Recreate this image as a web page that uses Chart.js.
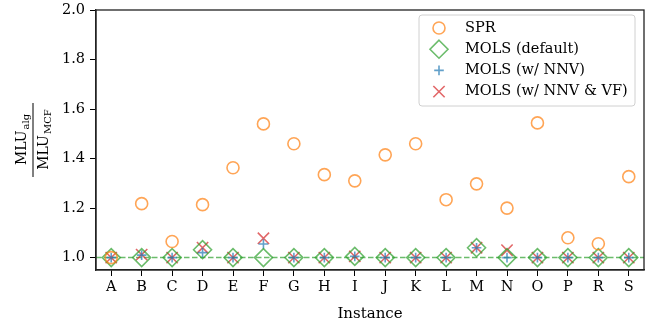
<!DOCTYPE html>
<html>
<head>
<meta charset="utf-8">
<script src="https://cdn.jsdelivr.net/npm/chart.js@4.4.0/dist/chart.umd.min.js"></script>
<style>
  html, body { margin: 0; padding: 0; background: #fff; }
</style>
</head>
<body>
<canvas id="chart" width="650" height="325"></canvas>
<script>
const instances = ['A', 'B', 'C', 'D', 'E', 'F', 'G', 'H', 'I', 'J', 'K', 'L', 'M', 'N', 'O', 'P', 'R', 'S'];
const sprValues = [1.0, 1.218, 1.065, 1.214, 1.363, 1.54, 1.46, 1.335, 1.31, 1.415, 1.46, 1.234, 1.298, 1.2, 1.544, 1.08, 1.056, 1.327];
const molsDefault = [1.0, 1.0, 1.0, 1.032, 1.0, 1.0, 1.0, 1.0, 1.005, 1.0, 1.0, 1.0, 1.04, 1.0, 1.0, 1.0, 1.0, 1.0];
const molsNnv = [1.0, 1.01, 1.0, 1.02, 1.0, 1.055, 1.0, 1.0, 1.005, 1.0, 1.0, 1.0, 1.04, 1.0, 1.0, 1.0, 1.0, 1.0];
const molsNnvVf = [1.0, 1.012, 1.0, 1.04, 1.0, 1.078, 1.0, 1.0, 1.005, 1.0, 1.0, 1.0, 1.04, 1.03, 1.0, 1.0, 1.0, 1.0];
const yTicks = [1.0, 1.2, 1.4, 1.6, 1.8, 2.0];

const FONT = 'DejaVu Serif';
const orange = 'rgba(255, 127, 14, 0.7)';
const green = 'rgba(44, 160, 44, 0.7)';
const blue = 'rgba(31, 119, 180, 0.7)';
const red = 'rgba(214, 39, 40, 0.7)';

// marker sizes (radius in px)
const R_CIRCLE = 6, R_DIAMOND = 9, R_PLUS = 4.8, R_X = 8;

// small marker painter, only used for the legend
function drawMarker(ctx, style, x, y, r, color) {
	ctx.save();
	ctx.strokeStyle = color;
	ctx.lineWidth = 1.6;
	ctx.beginPath();
	if (style === 'circle') {
		ctx.arc(x, y, r, 0, Math.PI * 2);
	} else if (style === 'rectRot') {
		ctx.moveTo(x, y - r); ctx.lineTo(x + r, y); ctx.lineTo(x, y + r); ctx.lineTo(x - r, y); ctx.closePath();
	} else if (style === 'cross') {
		ctx.moveTo(x - r, y); ctx.lineTo(x + r, y); ctx.moveTo(x, y - r); ctx.lineTo(x, y + r);
	} else {
		const d = r * Math.SQRT1_2;
		ctx.moveTo(x - d, y - d); ctx.lineTo(x + d, y + d); ctx.moveTo(x - d, y + d); ctx.lineTo(x + d, y - d);
	}
	ctx.stroke();
	ctx.restore();
}

const legendItems = [
	{ text: 'SPR', style: 'circle', r: R_CIRCLE, color: orange },
	{ text: 'MOLS (default)', style: 'rectRot', r: R_DIAMOND, color: green },
	{ text: 'MOLS (w/ NNV)', style: 'cross', r: R_PLUS, color: blue },
	{ text: 'MOLS (w/ NNV & VF)', style: 'crossRot', r: R_X, color: red },
];

const extras = {
	id: 'extras',
	beforeDatasetsDraw(chart) {
		// dashed reference line at 1.0
		const { ctx, chartArea } = chart;
		const y = chart.scales.y.getPixelForValue(1.0);
		ctx.save();
		ctx.strokeStyle = green;
		ctx.lineWidth = 1.5;
		ctx.setLineDash([5.5, 2.5]);
		ctx.beginPath();
		ctx.moveTo(chartArea.left, y);
		ctx.lineTo(chartArea.right, y);
		ctx.stroke();
		ctx.restore();
	},
	afterDraw(chart) {
		const { ctx, chartArea } = chart;
		ctx.save();
		// frame
		ctx.strokeStyle = '#222';
		ctx.lineWidth = 1.3;
		ctx.strokeRect(chartArea.left, chartArea.top, chartArea.right - chartArea.left, chartArea.bottom - chartArea.top);

		// legend
		const bx = chartArea.right - 225, by = chartArea.top + 5, bw = 216, bh = 91;
		ctx.fillStyle = 'rgba(255,255,255,0.8)';
		ctx.strokeStyle = '#d0d0d0';
		ctx.lineWidth = 1;
		ctx.beginPath();
		ctx.roundRect(bx, by, bw, bh, 3);
		ctx.fill();
		ctx.stroke();
		ctx.font = '14.5px "' + FONT + '"';
		ctx.fillStyle = '#000';
		ctx.textBaseline = 'middle';
		legendItems.forEach((it, i) => {
			const ly = by + 13 + i * 21.2;
			drawMarker(ctx, it.style, bx + 20, ly, it.r, it.color);
			ctx.fillText(it.text, bx + 46, ly);
		});

		// y label: MLU_alg / MLU_MCF
		ctx.translate(33, chartArea.top + (chartArea.bottom - chartArea.top) / 2);
		ctx.rotate(-Math.PI / 2);
		const part = (main, sub, base) => {
			ctx.font = '14px "' + FONT + '"';
			const w1 = ctx.measureText(main).width;
			ctx.font = '10px "' + FONT + '"';
			const w2 = ctx.measureText(sub).width;
			const start = -(w1 + w2) / 2;
			ctx.textBaseline = 'alphabetic';
			ctx.font = '14px "' + FONT + '"';
			ctx.fillText(main, start, base);
			ctx.font = '10px "' + FONT + '"';
			ctx.fillText(sub, start + w1 + 1, base + 3);
		};
		part('MLU', 'alg', -7);
		part('MLU', 'MCF', 15);
		ctx.strokeStyle = '#000';
		ctx.lineWidth = 1;
		ctx.beginPath();
		ctx.moveTo(-37, 0);
		ctx.lineTo(37, 0);
		ctx.stroke();
		ctx.restore();
	},
};

const tickFont = { family: FONT, size: 14.5 };

new Chart(document.getElementById('chart'), {
	type: 'line',
	data: {
		labels: instances,
		datasets: [
			{ label: 'SPR', data: sprValues, pointStyle: 'circle', pointRadius: R_CIRCLE, borderColor: orange },
			{ label: 'MOLS (default)', data: molsDefault, pointStyle: 'rectRot', pointRadius: R_DIAMOND, borderColor: green },
			{ label: 'MOLS (w/ NNV)', data: molsNnv, pointStyle: 'cross', pointRadius: R_PLUS, borderColor: blue },
			{ label: 'MOLS (w/ NNV & VF)', data: molsNnvVf, pointStyle: 'crossRot', pointRadius: R_X, borderColor: red },
		].map((d) => Object.assign(d, { showLine: false, backgroundColor: 'rgba(0,0,0,0)', pointBorderWidth: 1.6 })),
	},
	options: {
		responsive: false,
		animation: false,
		devicePixelRatio: 1,
		layout: { autoPadding: false, padding: { top: 10, right: 6, left: 0, bottom: 0 } },
		plugins: { legend: { display: false }, tooltip: { enabled: false } },
		scales: {
			x: {
				offset: true,
				grid: { drawOnChartArea: false, drawTicks: true, tickLength: 6, tickColor: '#000', tickWidth: 1 },
				border: { display: true, color: '#222', width: 1.3 },
				ticks: { color: '#000', font: tickFont, padding: 3, maxRotation: 0, autoSkip: false },
				title: { display: true, text: 'Instance', color: '#000', font: { family: FONT, size: 15 }, padding: { top: 0, bottom: 2 } },
				afterFit(scale) {
					scale.height = 55;
					scale.paddingLeft = 0;
					scale.paddingRight = 0;
				},
			},
			y: {
				min: 0.95,
				max: 2.0,
				afterBuildTicks(scale) { scale.ticks = yTicks.map((v) => ({ value: v })); },
				grid: { drawOnChartArea: false, drawTicks: true, tickLength: 6, tickColor: '#000', tickWidth: 1 },
				border: { display: true, color: '#222', width: 1.3 },
				ticks: { color: '#000', font: tickFont, padding: 5, callback: (v) => Number(v).toFixed(1) },
				afterFit(scale) {
					scale.width = 96;
					scale.paddingTop = 0;
					scale.paddingBottom = 0;
				},
			},
		},
	},
	plugins: [extras],
});
</script>
</body>
</html>
